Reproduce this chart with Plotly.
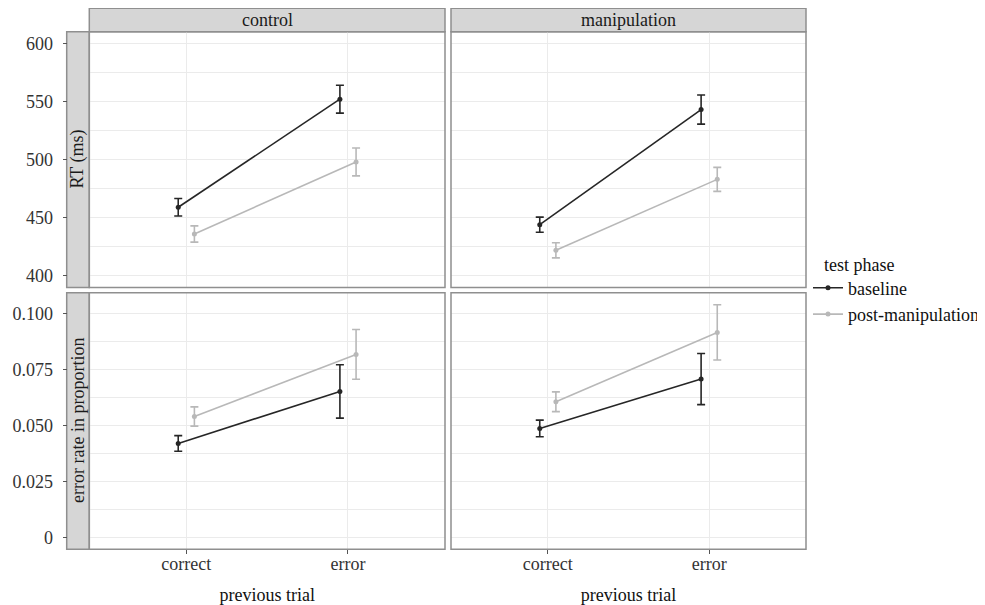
import plotly.graph_objects as go

# page body adds an 8px margin, so the figure is 8px smaller and positions are shifted
PAGE_W, PAGE_H = 985, 605
OFF = 8
W, H = PAGE_W - OFF, PAGE_H - OFF

# ---- data ----
previous_trial = ["correct", "error"]
conditions = ["control", "manipulation"]
phases = ["baseline", "post-manipulation"]

rt_control_baseline = [459, 552]
rt_control_baseline_err = [7.5, 12]
rt_control_post = [436, 498]
rt_control_post_err = [7, 12]
rt_manip_baseline = [444, 543]
rt_manip_baseline_err = [6.5, 12.5]
rt_manip_post = [422, 483]
rt_manip_post_err = [6.5, 10.3]

er_control_baseline = [0.0420, 0.0652]
er_control_baseline_err = [0.0035, 0.0119]
er_control_post = [0.0540, 0.0817]
er_control_post_err = [0.0043, 0.0111]
er_manip_baseline = [0.0487, 0.0707]
er_manip_baseline_err = [0.0037, 0.0114]
er_manip_post = [0.0606, 0.0915]
er_manip_post_err = [0.0044, 0.0123]

rt_ticks = [400, 450, 500, 550, 600]
er_ticks = [0, 0.025, 0.05, 0.075, 0.1]
er_ticklabels = ["0", "0.025", "0.050", "0.075", "0.100"]

# ---- styles ----
FONT = "Liberation Serif"
COL = {"baseline": "#262626", "post-manipulation": "#b8b8b8"}
DODGE = {"baseline": -0.05, "post-manipulation": 0.05}
GRID = "#ebebeb"
BORDER = "#8f8f8f"
STRIPFILL = "#d6d6d6"

def fx(p):
    return (p - OFF) / W

def fy(p):
    return 1 - (p - OFF) / H

xdom = {"control": [fx(89.3), fx(445.0)], "manipulation": [fx(451.0), fx(806.0)]}
ydom_top = [fy(287.5), fy(31.7)]
ydom_bot = [fy(549.3), fy(292.7)]

fig = go.Figure()

panels = [
    ("x", "y", "control", "top",
     {"baseline": (rt_control_baseline, rt_control_baseline_err),
      "post-manipulation": (rt_control_post, rt_control_post_err)}),
    ("x2", "y2", "manipulation", "top",
     {"baseline": (rt_manip_baseline, rt_manip_baseline_err),
      "post-manipulation": (rt_manip_post, rt_manip_post_err)}),
    ("x3", "y3", "control", "bot",
     {"baseline": (er_control_baseline, er_control_baseline_err),
      "post-manipulation": (er_control_post, er_control_post_err)}),
    ("x4", "y4", "manipulation", "bot",
     {"baseline": (er_manip_baseline, er_manip_baseline_err),
      "post-manipulation": (er_manip_post, er_manip_post_err)}),
]

for xa, ya, cond, row, series in panels:
    for ph in phases:
        vals, errs = series[ph]
        xs = [i + 1 + DODGE[ph] for i in range(len(previous_trial))]
        show = (xa == "x")
        fig.add_trace(go.Scatter(
            x=xs, y=vals, xaxis=xa, yaxis=ya,
            mode="lines+markers", name=ph,
            line=dict(color=COL[ph], width=1.6),
            marker=dict(color=COL[ph], size=5),
            error_y=dict(type="data", array=errs, visible=True,
                         color=COL[ph], thickness=1.6, width=4),
            showlegend=show,
            hoverinfo="skip",
        ))

axis_font = dict(family=FONT, size=18, color="#333333")

def xaxis_cfg(cond, bottom):
    d = dict(domain=xdom[cond], range=[0.4, 2.6], tickvals=[1, 2],
             ticktext=previous_trial, showgrid=True, gridcolor=GRID, gridwidth=1,
             zeroline=False, showline=False, tickfont=axis_font,
             showticklabels=bottom, ticks="outside" if bottom else "",
             ticklen=4, tickcolor="#555555", fixedrange=True)
    if bottom:
        d["ticklabelstandoff"] = -6
        d["title"] = dict(text="previous trial", font=dict(family=FONT, size=18, color="#111111"),
                          standoff=16)
    return d

def yaxis_cfg(row, left, anchor):
    if row == "top":
        rng = [390, 610]
        tv, tt = rt_ticks, [str(t) for t in rt_ticks]
        minor = dict(dtick=25, tick0=375, showgrid=True, gridcolor=GRID, gridwidth=1)
        dom = ydom_top
    else:
        rng = [-0.0052, 0.1092]
        tv, tt = er_ticks, er_ticklabels
        minor = dict(dtick=0.0125, tick0=0, showgrid=True, gridcolor=GRID, gridwidth=1)
        dom = ydom_bot
    d = dict(domain=dom, range=rng, tickvals=tv, ticktext=tt, showgrid=True,
             gridcolor=GRID, gridwidth=1, zeroline=False, showline=False,
             tickfont=axis_font, showticklabels=left, minor=minor, fixedrange=True)
    if left:
        d.update(anchor="free", position=fx(66.7), ticks="outside", ticklen=4,
                 tickcolor="#555555", ticklabelstandoff=6)
    else:
        d.update(anchor=anchor, ticks="")
    return d

fig.update_layout(
    xaxis=dict(**xaxis_cfg("control", False), anchor="y"),
    xaxis2=dict(**xaxis_cfg("manipulation", False), anchor="y2"),
    xaxis3=dict(**xaxis_cfg("control", True), anchor="y3"),
    xaxis4=dict(**xaxis_cfg("manipulation", True), anchor="y4"),
    yaxis=yaxis_cfg("top", True, "x"),
    yaxis2=yaxis_cfg("top", False, "x2"),
    yaxis3=yaxis_cfg("bot", True, "x3"),
    yaxis4=yaxis_cfg("bot", False, "x4"),
)

shapes = []
annotations = []
# panel borders
for xa in ["x", "x2", "x3", "x4"]:
    ya = "y" + xa[1:]
    shapes.append(dict(type="rect", xref=xa + " domain", yref=ya + " domain",
                       x0=0, x1=1, y0=0, y1=1, line=dict(color=BORDER, width=1.5),
                       fillcolor="rgba(0,0,0,0)", layer="above"))
# top strips
for cond in conditions:
    shapes.append(dict(type="rect", xref="paper", yref="paper",
                       x0=xdom[cond][0], x1=xdom[cond][1], y0=ydom_top[1], y1=fy(8.3),
                       line=dict(color=BORDER, width=1.5), fillcolor=STRIPFILL, layer="below"))
    annotations.append(dict(text=cond, xref="paper", yref="paper",
                            x=(xdom[cond][0] + xdom[cond][1]) / 2, y=(ydom_top[1] + fy(8.3)) / 2,
                            showarrow=False, xanchor="center", yanchor="middle",
                            font=dict(family=FONT, size=18, color="#1a1a1a")))
# left strips
row_labels = [("RT (ms)", ydom_top), ("error rate in proportion", ydom_bot)]
for lab, dom in row_labels:
    shapes.append(dict(type="rect", xref="paper", yref="paper",
                       x0=fx(66.7), x1=xdom["control"][0], y0=dom[0], y1=dom[1],
                       line=dict(color=BORDER, width=1.5), fillcolor=STRIPFILL, layer="below"))
    annotations.append(dict(text=lab, xref="paper", yref="paper",
                            x=(fx(66.7) + xdom["control"][0]) / 2, y=(dom[0] + dom[1]) / 2,
                            showarrow=False, textangle=-90, xanchor="center", yanchor="middle",
                            font=dict(family=FONT, size=18, color="#1a1a1a")))
# legend title
annotations.append(dict(text="test phase", xref="paper", yref="paper",
                        x=fx(822), y=fy(265), showarrow=False, xanchor="left", yanchor="middle",
                        font=dict(family=FONT, size=18, color="#111111")))

fig.update_layout(
    shapes=shapes, annotations=annotations,
    width=W, height=H, margin=dict(l=0, r=0, t=0, b=0),
    paper_bgcolor="white", plot_bgcolor="white",
    font=dict(family=FONT, size=18, color="#111111"),
    legend=dict(x=fx(808), y=fy(301), xanchor="left", yanchor="middle",
                bgcolor="rgba(0,0,0,0)", font=dict(family=FONT, size=18, color="#111111"),
                itemwidth=30, borderwidth=0, tracegroupgap=0),
)

fig.write_html("out.html")
